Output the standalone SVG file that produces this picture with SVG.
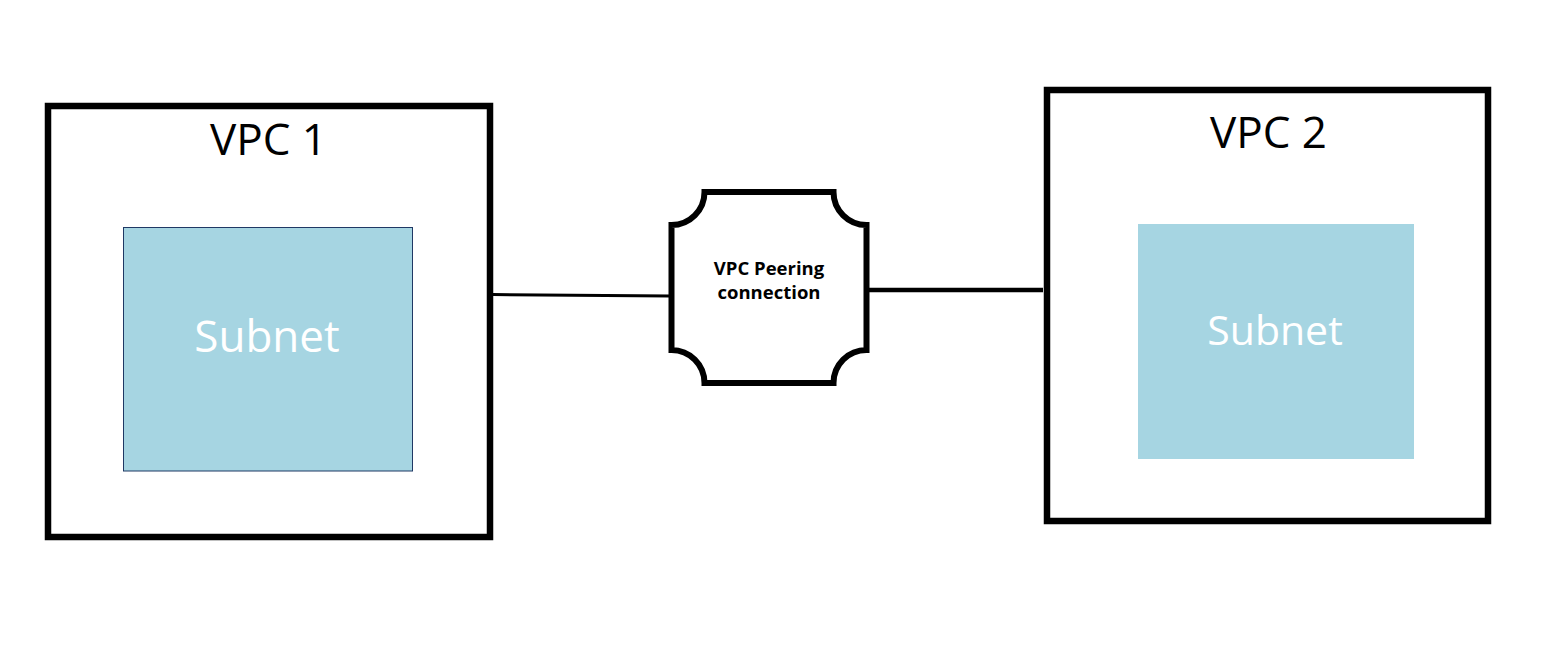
<svg xmlns="http://www.w3.org/2000/svg" width="1553" height="664" viewBox="0 0 1553 664">
<style>
.vpc{fill:#fff;stroke:#000;stroke-width:6.5}
.subnet{fill:#A6D5E2}
.title{font-family:"Open Sans","Liberation Sans",sans-serif;fill:#000;text-anchor:middle}
.sub{font-family:"Open Sans","Liberation Sans",sans-serif;fill:#fff;text-anchor:middle}
.peer{fill:#fff;stroke:#000;stroke-width:6}
.plabel{font-family:"Open Sans","Liberation Sans",sans-serif;font-weight:bold;font-size:18.5px;fill:#000;text-anchor:middle}
.conn{stroke:#000;fill:none}
</style>
<rect width="1553" height="664" fill="#fff"/>
<g id="connectors">
<line class="conn" x1="493" y1="294.5" x2="670" y2="296" stroke-width="3"/>
<line class="conn" x1="868" y1="290" x2="1043" y2="290" stroke-width="4.5"/>
</g>
<g id="vpc1">
<rect class="vpc" x="48" y="106" width="442" height="431"/>
<text class="title" x="268.5" y="155" font-size="44">VPC 1</text>
</g>
<g id="subnet1">
<rect class="subnet" x="123.5" y="227.5" width="289" height="243.5" stroke="#1F3864" stroke-width="1"/>
<text class="sub" x="267" y="352" font-size="44">Subnet</text>
</g>
<g id="vpc2">
<rect class="vpc" x="1047" y="90" width="441" height="431"/>
<text class="title" x="1268.5" y="148" font-size="44">VPC 2</text>
</g>
<g id="subnet2">
<rect class="subnet" x="1138" y="224" width="276" height="235"/>
<text class="sub" x="1275" y="345" font-size="41">Subnet</text>
</g>
<g id="peering">
<path class="peer" d="M704.5,192 L833.5,192 A33,33 0 0 0 866.5,225 L866.5,350 A33,33 0 0 0 833.5,383 L704.5,383 A33,33 0 0 0 671.5,350 L671.5,225 A33,33 0 0 0 704.5,192 Z"/>
<text class="plabel" x="769" y="275">VPC Peering</text>
<text class="plabel" x="769" y="299">connection</text>
</g>
</svg>
